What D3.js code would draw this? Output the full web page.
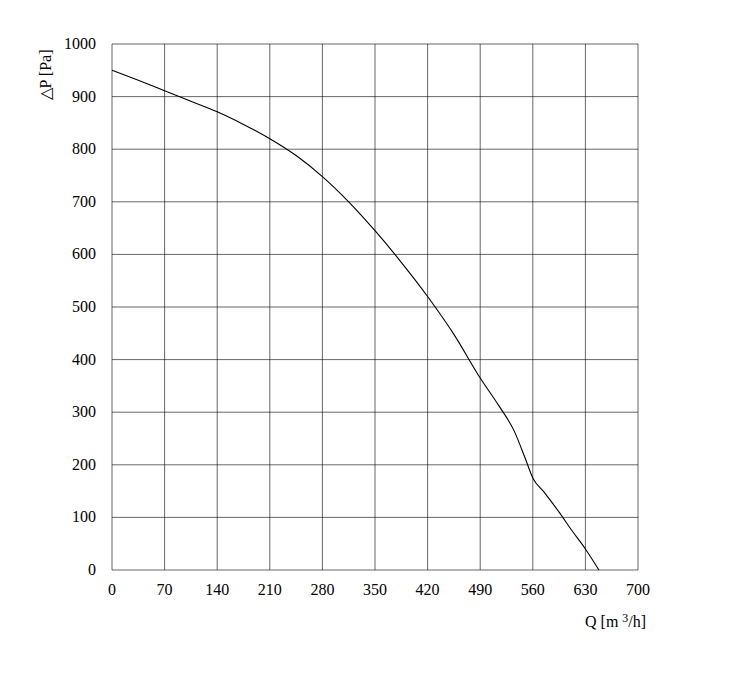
<!DOCTYPE html>
<html><head><meta charset="utf-8">
<script src="https://cdn.jsdelivr.net/npm/d3@7"></script>
<style>body{margin:0;background:#fff}text{font-family:"Liberation Serif",serif;font-size:16px;fill:#000}</style>
</head><body>
<svg id="c" width="731" height="695"></svg>
<script>
const xTicks=[0,70,140,210,280,350,420,490,560,630,700];
const yTicks=[0,100,200,300,400,500,600,700,800,900,1000];
const flowQ=[0,35,70,105,140,175,210,245,280,315,350,385,420,455,490,515,535,550,560,575,595,612,630,648];
const pressure=[950,931,911,891,871,847,820,788,748,700,645,585,520,448,365,312,265,212,175,148,110,75,40,0];
const svg=d3.select("#c");
const x=d3.scaleLinear().domain([0,700]).range([112,638]);
const y=d3.scaleLinear().domain([0,1000]).range([570,44]);
const g=svg.append("g");
g.selectAll(".vx").data(xTicks).join("line").attr("x1",d=>x(d)).attr("x2",d=>x(d)).attr("y1",y(0)).attr("y2",y(1000)).attr("stroke","#000").attr("stroke-width",0.6);
g.selectAll(".hy").data(yTicks).join("line").attr("y1",d=>y(d)).attr("y2",d=>y(d)).attr("x1",x(0)).attr("x2",x(700)).attr("stroke","#000").attr("stroke-width",0.6);
g.selectAll(".xt").data(xTicks).join("text").attr("x",d=>x(d)).attr("y",595).attr("text-anchor","middle").text(d=>d);
g.selectAll(".yt").data(yTicks).join("text").attr("x",96).attr("y",d=>y(d)+5).attr("text-anchor","end").text(d=>d);
const line=d3.line().x((d,i)=>x(flowQ[i])).y(d=>y(d)).curve(d3.curveMonotoneX);
g.append("path").attr("d",line(pressure)).attr("fill","none").attr("stroke","#000").attr("stroke-width",1.1);
svg.append("text").attr("transform","translate(51,75) rotate(-90)").attr("text-anchor","middle").text("△P [Pa]");
svg.append("text").attr("x",585).attr("y",627).html('Q [m <tspan dy="-5" font-size="12">3</tspan><tspan dy="5">/h]</tspan>');
</script>
</body></html>
